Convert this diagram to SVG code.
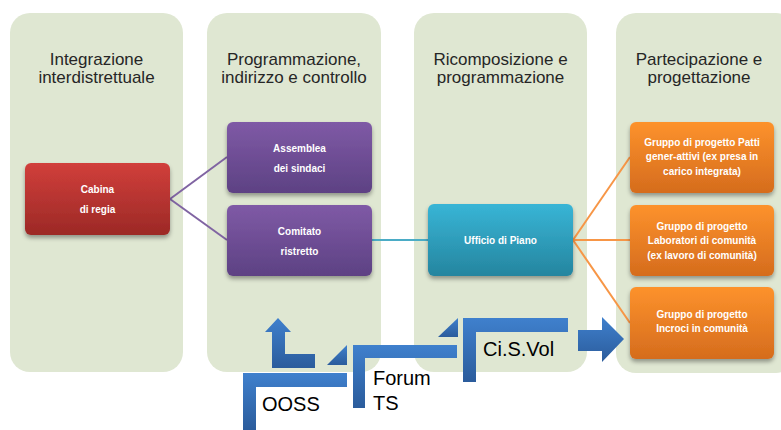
<svg xmlns="http://www.w3.org/2000/svg" width="781" height="430" viewBox="0 0 781 430">
<defs>
<linearGradient id="gRed" x1="0" y1="0" x2="0" y2="1"><stop offset="0" stop-color="#d13f3b"/><stop offset="1" stop-color="#9c2926"/></linearGradient>
<linearGradient id="gPur" x1="0" y1="0" x2="0" y2="1"><stop offset="0" stop-color="#7f5aa6"/><stop offset="1" stop-color="#5d4183"/></linearGradient>
<linearGradient id="gTeal" x1="0" y1="0" x2="0" y2="1"><stop offset="0" stop-color="#38b5d6"/><stop offset="1" stop-color="#25859f"/></linearGradient>
<linearGradient id="gOr" x1="0" y1="0" x2="0" y2="1"><stop offset="0" stop-color="#fd922c"/><stop offset="1" stop-color="#d56c1d"/></linearGradient>
<linearGradient id="gBlue" x1="0" y1="0" x2="0" y2="1"><stop offset="0" stop-color="#3f80cd"/><stop offset="1" stop-color="#2b5c9c"/></linearGradient>
<filter id="sh" x="-10%" y="-10%" width="125%" height="135%"><feDropShadow dx="0" dy="3" stdDeviation="2" flood-color="#000" flood-opacity="0.35"/></filter>
</defs>
<style>
.col{fill:#dfe7d2}
.title{font-family:"Liberation Sans",Arial,sans-serif;font-size:17px;fill:#262626;text-anchor:middle}
.nt{font-family:"Liberation Sans",Arial,sans-serif;font-size:10px;font-weight:bold;fill:#ffffff;text-anchor:middle}
.bt{font-family:"Liberation Sans",Arial,sans-serif;font-size:20px;fill:#000000}
.blue{fill:url(#gBlue)}
</style>
<rect width="781" height="430" fill="#ffffff"/>
<g id="columns">
<rect class="col" x="10" y="13" width="173" height="359" rx="20"/>
<rect class="col" x="207" y="13" width="174" height="359" rx="20"/>
<rect class="col" x="414" y="13" width="173" height="359" rx="20"/>
<rect class="col" x="616" y="13" width="180" height="360" rx="20"/>
<text class="title" x="96.5" y="65">Integrazione</text>
<text class="title" x="96.5" y="83">interdistrettuale</text>
<text class="title" x="294" y="65">Programmazione,</text>
<text class="title" x="294" y="83">indirizzo e controllo</text>
<text class="title" x="500.5" y="65">Ricomposizione e</text>
<text class="title" x="500.5" y="83">programmazione</text>
<text class="title" x="699" y="65">Partecipazione e</text>
<text class="title" x="699" y="83">progettazione</text>
</g>
<g id="connectors" fill="none" stroke-width="2">
<line x1="170" y1="199" x2="227" y2="157" stroke="#8064a2"/>
<line x1="170" y1="199" x2="227" y2="240" stroke="#8064a2"/>
<line x1="372" y1="240" x2="428" y2="240" stroke="#4bacc6"/>
<line x1="573" y1="240" x2="630" y2="157" stroke="#f79646"/>
<line x1="573" y1="240" x2="630" y2="240" stroke="#f79646"/>
<line x1="573" y1="240" x2="630" y2="323" stroke="#f79646"/>
</g>
<g id="cabina">
<rect x="25" y="163" width="145" height="72" rx="6" fill="url(#gRed)" filter="url(#sh)"/>
<text class="nt" x="97.5" y="193">Cabina</text>
<text class="nt" x="97.5" y="213">di regia</text>
</g>
<g id="assemblea">
<rect x="227" y="122" width="145" height="71" rx="6" fill="url(#gPur)" filter="url(#sh)"/>
<text class="nt" x="299.5" y="152">Assemblea</text>
<text class="nt" x="299.5" y="172">dei sindaci</text>
</g>
<g id="comitato">
<rect x="227" y="205" width="145" height="71" rx="6" fill="url(#gPur)" filter="url(#sh)"/>
<text class="nt" x="299.5" y="235">Comitato</text>
<text class="nt" x="299.5" y="255">ristretto</text>
</g>
<g id="ufficio">
<rect x="428" y="204" width="145" height="72" rx="6" fill="url(#gTeal)" filter="url(#sh)"/>
<text class="nt" x="500.5" y="244">Ufficio di Piano</text>
</g>
<g id="gruppo1">
<rect x="630" y="122" width="144" height="71" rx="6" fill="url(#gOr)" filter="url(#sh)"/>
<text class="nt" x="702" y="146">Gruppo di progetto Patti</text>
<text class="nt" x="702" y="160">gener-attivi (ex presa in</text>
<text class="nt" x="702" y="175">carico integrata)</text>
</g>
<g id="gruppo2">
<rect x="630" y="205" width="144" height="71" rx="6" fill="url(#gOr)" filter="url(#sh)"/>
<text class="nt" x="702" y="230">Gruppo di progetto</text>
<text class="nt" x="702" y="244">Laboratori di comunità</text>
<text class="nt" x="702" y="259">(ex lavoro di comunità)</text>
</g>
<g id="gruppo3">
<rect x="630" y="287" width="144" height="72" rx="6" fill="url(#gOr)" filter="url(#sh)"/>
<text class="nt" x="702" y="318">Gruppo di progetto</text>
<text class="nt" x="702" y="332">Incroci in comunità</text>
</g>
<g id="bottom-arrows">
<path class="blue" d="M278,318 L291,332 L285,332 L285,354 L315,354 L315,368 L272,368 L272,332 L265,332 Z"/>
<path class="blue" d="M327,365 L347,345 L347,365 Z"/>
<path class="blue" d="M438,337 L458,318 L458,337 Z"/>
<path class="blue" d="M243,373 L347,373 L347,387 L256,387 L256,430 L243,430 Z"/>
<path class="blue" d="M353,345 L457,345 L457,358 L365,358 L365,408 L353,408 Z"/>
<path class="blue" d="M463,318 L568,318 L568,332 L476,332 L476,382 L463,382 Z"/>
<path class="blue" d="M578,330 L602,330 L602,317 L624,339 L602,362 L602,351 L578,351 Z"/>
</g>
<g id="labels">
<text class="bt" x="262" y="411">OOSS</text>
<text class="bt" x="373" y="385">Forum</text>
<text class="bt" x="373" y="410">TS</text>
<text class="bt" x="483" y="356">Ci.S.Vol</text>
</g>
</svg>
